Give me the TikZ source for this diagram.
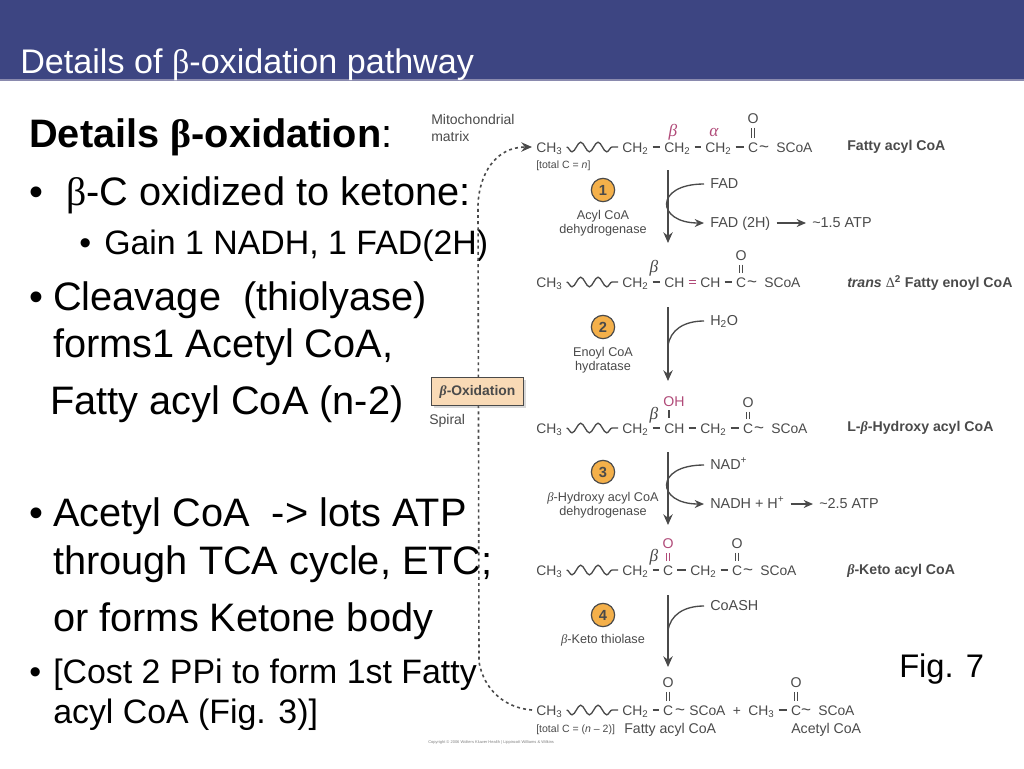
\documentclass[tikz,border=0pt]{standalone}
\usepackage{fontspec}
\setmainfont{Liberation Sans}
\newfontfamily\betafont{Liberation Serif}
\usetikzlibrary{arrows.meta,decorations.pathmorphing,shadows}
\definecolor{slideblue}{HTML}{3D4582}
\definecolor{slideline}{HTML}{8A8AAE}
\definecolor{chemgray}{HTML}{4A4A4A}
\definecolor{chempink}{HTML}{B04A78}
\definecolor{steporange}{HTML}{F4B04A}
\definecolor{boxpeach}{HTML}{F9DAB6}
\newcommand{\bet}{{\betafont β}}
\newcommand{\ibet}{{\betafont\itshape β}}
\newcommand{\ialp}{{\betafont\itshape α}}
\tikzset{
    bodybig/.style={anchor=base west, inner sep=0pt, font=\fontsize{29.8}{32}\selectfont},
    bodysmall/.style={anchor=base west, inner sep=0pt, font=\fontsize{25.4}{28}\selectfont},
    atom/.style={anchor=west, inner xsep=3pt, inner ysep=0pt, text height=8pt, text depth=0.5pt, color=chemgray, font=\fontsize{10.4}{12}\selectfont},
    tilde/.style={inner sep=0pt, text height=8pt, text depth=0.5pt, color=chemgray, font=\fontsize{12.8}{14}\selectfont},
    oxygen/.style={inner sep=0.5pt, color=chemgray, font=\fontsize{10.6}{12}\selectfont},
    greek/.style={inner sep=0pt, color=chemgray, font=\fontsize{13}{13}\selectfont},
    chainlabel/.style={anchor=west, inner sep=0pt, color=chemgray, font=\fontsize{10.6}{12}\selectfont\bfseries},
    note/.style={anchor=west, inner sep=0pt, color=chemgray, font=\fontsize{10.5}{12}\selectfont},
    enzyme/.style={align=center, inner sep=0pt, color=chemgray, font=\fontsize{9.5}{10.5}\selectfont},
    stepdot/.style={circle, draw=chemgray, line width=0.9pt, fill=steporange, minimum size=17.5pt, inner sep=0pt, text=chemgray, font=\fontsize{11}{12}\selectfont\bfseries},
    product/.style={anchor=west, inner xsep=4.5pt, inner ysep=0pt, text height=8pt, text depth=2pt, color=chemgray, font=\fontsize{10.8}{12}\selectfont},
    bond/.style={line width=1.1pt, color=chemgray},
    dbl/.style={double, double distance=1.6pt, line width=0.75pt, color=chemgray, shorten <=2pt, shorten >=2.5pt},
    dblside/.style={double, double distance=1.5pt, line width=0.9pt, color=chempink},
    wavy/.style={line width=1pt, color=chemgray, decorate, decoration={snake, mirror, segment length=13pt, amplitude=3.6pt, pre length=0pt, post length=0pt}},
    pathway/.style={line width=1.3pt, color=chemgray, -{Stealth[length=8pt, width=7pt]}},
    sidearc/.style={line width=1pt, color=chemgray},
    sidetip/.style={sidearc, -{Stealth[length=7pt, width=6pt]}},
}
\begin{document}
\begin{tikzpicture}[x=0.75pt, y=-0.75pt]
    \useasboundingbox (0,0) rectangle (1024,768);

    % Header band
    \fill[slideblue] (0,0) rectangle (1024,80);
    \draw[slideline, line width=0.8pt] (0,80) -- (1024,80);
    \node[anchor=base west, inner sep=0pt, color=white, font=\fontsize{25.6}{28}\selectfont] (title) at (20,73) {Details of \bet-oxidation pathway};

    % Left column text
    \node[bodybig, font=\fontsize{29.8}{32}\selectfont\bfseries] (headline) at (29,147) {Details \bet-oxidation\textmd{:}};
    \node[bodybig] (bula) at (29,205) {•};
    \node[bodybig] (linea) at (66,205) {\bet-C oxidized to ketone:};
    \node[bodysmall] (bulb) at (79,254) {•};
    \node[bodysmall] (lineb) at (104,254) {Gain 1 NADH, 1 FAD(2H)};
    \node[bodybig] (bulc) at (29,310) {•};
    \node[bodybig] (linec) at (53,310) {Cleavage\ \ (thiolyase)};
    \node[bodybig] (lined) at (53,357) {forms1 Acetyl CoA,};
    \node[bodybig] (linee) at (50,414) {Fatty acyl CoA (n-2)};
    \node[bodybig] (bulf) at (29,526) {•};
    \node[bodybig] (linef) at (53,526) {Acetyl CoA\ \ -> lots ATP};
    \node[bodybig] (lineg) at (53,574) {through TCA cycle, ETC;};
    \node[bodybig] (lineh) at (53,631) {or forms Ketone body};
    \node[bodysmall] (buli) at (29,683) {•};
    \node[bodysmall] (linei) at (53,683) {[Cost 2 PPi to form 1st Fatty};
    \node[bodysmall] (linej) at (53,723) {acyl CoA (Fig. 3)]};
    \node[bodybig, font=\fontsize{24.5}{28}\selectfont] (figno) at (899,677) {Fig. 7};

    % Start of every chain
    \foreach \n/\ypos in {1/147,2/282,3/428,4/570,5/710} {
        \node[atom] (cha\n) at (532,\ypos) {CH\textsubscript{3}};
        \node[atom] (chb\n) at (618,\ypos) {CH\textsubscript{2}};
        \draw[wavy] (cha\n.east) -- (chb\n.west);
    }

    % Fatty acyl CoA
    \node[atom] (chc1) at (660,147) {CH\textsubscript{2}};
    \node[atom] (chd1) at (701,147) {CH\textsubscript{2}};
    \node[atom, anchor=center] (car1) at (753,147) {C};
    \node[tilde] (til1) at (764,147) {\char`\~};
    \node[atom] (coa1) at (772,147) {SCoA};
    \node[oxygen] (oxy1) at (753,119) {O};
    \draw[bond] (chb1) -- (chc1);
    \draw[bond] (chc1) -- (chd1);
    \draw[bond] (chd1) -- (car1);
    \draw[dbl] (oxy1) -- (car1);
    \node[greek, color=chempink] (beta1) at (673,132) {\ibet};
    \node[greek, color=chempink] (alpha1) at (714,132) {\ialp};
    \node[note, font=\fontsize{7.9}{9}\selectfont] (total1) at (536,166) {[total C = \textit{n}]};
    \node[chainlabel] (lab1) at (847,147) {Fatty acyl CoA};

    % Fatty enoyl CoA
    \node[atom] (chc2) at (660,282) {CH};
    \node[atom] (chd2) at (696,282) {CH};
    \node[atom, anchor=center] (car2) at (741,282) {C};
    \node[tilde] (til2) at (752,282) {\char`\~};
    \node[atom] (coa2) at (760,282) {SCoA};
    \node[oxygen] (oxy2) at (741,256) {O};
    \draw[bond] (chb2) -- (chc2);
    \draw[dblside] (chc2) -- (chd2);
    \draw[bond] (chd2) -- (car2);
    \draw[dbl] (oxy2) -- (car2);
    \node[greek] (beta2) at (654,268) {\ibet};
    \node[chainlabel] (lab2) at (847,283) {\textit{trans} {\mdseries\betafont Δ}\textsuperscript{2} Fatty enoyl CoA};

    % Hydroxy acyl CoA
    \node[atom] (chc3) at (660,428) {CH};
    \node[atom] (chd3) at (696,428) {CH\textsubscript{2}};
    \node[atom, anchor=center] (car3) at (748,428) {C};
    \node[tilde] (til3) at (759,428) {\char`\~};
    \node[atom] (coa3) at (767,428) {SCoA};
    \node[oxygen] (oxy3) at (748,403) {O};
    \node[oxygen, color=chempink] (hyd3) at (674,402) {OH};
    \coordinate (hydt3) at (669,410);
    \coordinate (hydb3) at (669,418);
    \draw[bond] (chb3) -- (chc3);
    \draw[bond] (chc3) -- (chd3);
    \draw[bond] (chd3) -- (car3);
    \draw[dbl] (oxy3) -- (car3);
    \draw[bond, line width=0.8pt] (hydt3) -- (hydb3);
    \node[greek] (beta3) at (654,415) {\ibet};
    \node[chainlabel] (lab3) at (847,428) {L-\ibet-Hydroxy acyl CoA};

    % Keto acyl CoA
    \node[atom, anchor=center] (chc4) at (668,570) {C};
    \node[atom] (chd4) at (686,570) {CH\textsubscript{2}};
    \node[atom, anchor=center] (car4) at (737,570) {C};
    \node[tilde] (til4) at (748,570) {\char`\~};
    \node[atom] (coa4) at (756,570) {SCoA};
    \node[oxygen] (oxy4) at (737,544) {O};
    \node[oxygen, color=chempink] (ket4) at (668,544) {O};
    \draw[bond] (chb4) -- (chc4);
    \draw[bond] (chc4) -- (chd4);
    \draw[bond] (chd4) -- (car4);
    \draw[dbl] (oxy4) -- (car4);
    \draw[dbl, color=chempink] (ket4) -- (chc4);
    \node[greek] (beta4) at (654,557) {\ibet};
    \node[chainlabel] (lab4) at (847,571) {\ibet-Keto acyl CoA};

    % Products of the last step
    \node[atom, anchor=center] (chc5) at (668,710) {C};
    \node[tilde] (til5) at (680,710) {\char`\~};
    \node[atom] (coa5) at (685,710) {SCoA};
    \node[tilde, font=\fontsize{10.4}{12}\selectfont] (plus5) at (737,710) {+};
    \node[atom] (ace5) at (744,710) {CH\textsubscript{3}};
    \node[atom, anchor=center] (car5) at (796,710) {C};
    \node[tilde] (tilb5) at (806,710) {\char`\~};
    \node[atom] (coab5) at (814,710) {SCoA};
    \node[oxygen] (oxy5) at (668,683) {O};
    \node[oxygen] (oxyb5) at (796,683) {O};
    \draw[bond] (chb5) -- (chc5);
    \draw[bond] (ace5) -- (car5);
    \draw[dbl] (oxy5) -- (chc5);
    \draw[dbl] (oxyb5) -- (car5);
    \node[note, font=\fontsize{7.9}{9}\selectfont] (total5) at (536,730) {[total C = (\textit{n} – 2)]};
    \node[note, font=\fontsize{10.6}{12}\selectfont] (acyl5) at (624,730) {Fatty acyl CoA};
    \node[note, font=\fontsize{10.6}{12}\selectfont] (acet5) at (791,730) {Acetyl CoA};
    \node[note, font=\fontsize{3}{4}\selectfont, color=gray] (copy5) at (428,742) {Copyright © 2006 Wolters Kluwer Health | Lippincott Williams \& Wilkins};

    % Enzyme steps
    \node[stepdot] (stepa) at (603,190) {1};
    \node[enzyme, anchor=north] (enza) at (603,210) {Acyl CoA\\dehydrogenase};
    \node[stepdot] (stepb) at (603,327) {2};
    \node[enzyme, anchor=north] (enzb) at (603,347) {Enoyl CoA\\hydratase};
    \node[stepdot] (stepc) at (603,472) {3};
    \node[enzyme, anchor=north] (enzc) at (603,492) {\ibet-Hydroxy acyl CoA\\dehydrogenase};
    \node[stepdot] (stepd) at (603,615) {4};
    \node[enzyme, anchor=north] (enzd) at (603,634) {\ibet-Keto thiolase};

    % Pathway arrows
    \coordinate (froma) at (668,170);
    \coordinate (toa) at (668,243);
    \coordinate (fromb) at (668,307);
    \coordinate (tob) at (668,381);
    \coordinate (fromc) at (668,452);
    \coordinate (toc) at (668,525);
    \coordinate (fromd) at (668,595);
    \coordinate (tod) at (668,667);
    \draw[pathway] (froma) -- (toa);
    \draw[pathway] (fromb) -- (tob);
    \draw[pathway] (fromc) -- (toc);
    \draw[pathway] (fromd) -- (tod);

    % Side reactions
    \node[product] (faa) at (704,184) {FAD};
    \node[product] (fab) at (704,223) {FAD (2H)};
    \node[product] (atpa) at (806,223) {\char`\~1.5 ATP};
    \node[product] (water) at (704,321) {H\textsubscript{2}O};
    \node[product] (nada) at (704,465) {NAD\textsuperscript{+}};
    \node[product] (nadb) at (704,504) {NADH + H\textsuperscript{+}};
    \node[product] (atpb) at (813,504) {\char`\~2.5 ATP};
    \node[product] (coash) at (704,606) {CoASH};
    \draw[sidetip] (faa.west) .. controls (654,184) and (656,223) .. (fab.west);
    \draw[sidetip] (fab.east) -- (atpa.west);
    \draw[sidearc] (water.west) .. controls (684,321) and (670,330) .. (668,346);
    \draw[sidetip] (nada.west) .. controls (654,465) and (656,504) .. (nadb.west);
    \draw[sidetip] (nadb.east) -- (atpb.west);
    \draw[sidearc] (coash.west) .. controls (684,606) and (670,615) .. (668,631);

    % Dotted return loop, drawn over the left column
    \draw[line width=1.2pt, color=chemgray, dash pattern=on 2.2pt off 2.4pt, -{Stealth[length=8pt, width=7pt]}]
        (cha5.west) .. controls (505,708) and (484,690) .. (479,662) -- (478,205) .. controls (479,175) and (495,147) .. (cha1.west);

    % Spiral label
    \node[note] (mito) at (431,119) {Mitochondrial};
    \node[note] (matrix) at (431,136) {matrix};
    \node[draw=chemgray, line width=0.9pt, fill=boxpeach, drop shadow={opacity=0.3, shadow xshift=1.5pt, shadow yshift=-1.5pt}, minimum width=69pt, minimum height=21pt, inner sep=0pt, text=chemgray, font=\fontsize{10.4}{12}\selectfont\bfseries] (betabox) at (477.5,391.5) {\ibet-Oxidation};
    \node[note] (spiral) at (429,421) {Spiral};
\end{tikzpicture}
\end{document}
